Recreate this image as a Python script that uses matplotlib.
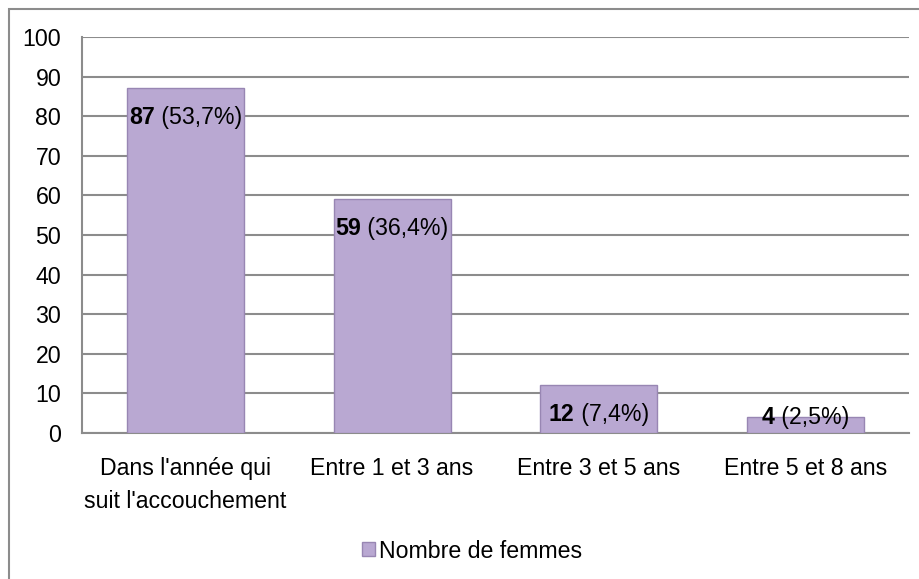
import matplotlib
matplotlib.use("Agg")
import matplotlib.pyplot as plt
from matplotlib.patches import Patch, Rectangle
from matplotlib.offsetbox import TextArea, HPacker, AnnotationBbox

categories = ["Dans l'année qui\nsuit l'accouchement", "Entre 1 et 3 ans",
              "Entre 3 et 5 ans", "Entre 5 et 8 ans"]
values = [87, 59, 12, 4]
percent_labels = ["(53,7%)", "(36,4%)", "(7,4%)", "(2,5%)"]
series_name = "Nombre de femmes"
yticks = [0, 10, 20, 30, 40, 50, 60, 70, 80, 90, 100]

plt.rcParams['font.family'] = ['Liberation Sans', 'DejaVu Sans']
FS = 16.7

fig = plt.figure(figsize=(9.19, 5.79), dpi=100)
ax = fig.add_axes([82/919, 1-433/579, (909-82)/919, (433-37)/579])

bar_color = '#B9A8D2'
edge_color = '#9886B3'
x = list(range(len(values)))
bars = ax.bar(x, values, width=0.566, color=bar_color, edgecolor=edge_color,
              linewidth=1.0, zorder=3)

ax.set_xlim(-0.5, len(values) - 0.5)
ax.set_ylim(0, 100)
ax.set_yticks(yticks)
ax.set_yticklabels([str(t) for t in yticks], fontsize=FS)
ax.set_xticks(x)
ax.set_xticklabels(categories, fontsize=FS, linespacing=1.55)
ax.tick_params(axis='y', length=0, pad=15)
ax.tick_params(axis='x', length=0, pad=17)

ax.yaxis.grid(True, color='#8C8C8C', linewidth=1.5, zorder=0)
ax.set_axisbelow(True)
for s in ['top', 'right']:
    ax.spines[s].set_visible(False)
for s in ['left', 'bottom']:
    ax.spines[s].set_color('#8C8C8C')
    ax.spines[s].set_linewidth(1.5)

for xi, v, p in zip(x, values, percent_labels):
    t1 = TextArea(str(v), textprops=dict(fontsize=FS, fontweight='bold', color='black'))
    t2 = TextArea(" " + p, textprops=dict(fontsize=FS, color='black'))
    box = HPacker(children=[t1, t2], pad=0, sep=0, align='baseline')
    off = -21 if v > 8 else 0
    ab = AnnotationBbox(box, (xi, v), xybox=(0, off), xycoords='data',
                        boxcoords='offset points', frameon=False,
                        box_alignment=(0.5, 0.5), zorder=5)
    ax.add_artist(ab)

handle = Patch(facecolor=bar_color, edgecolor=edge_color, label=series_name)
fig.legend(handles=[handle], loc='center', bbox_to_anchor=(472/919, 1-551/579),
           frameon=False, fontsize=FS, handlelength=0.55, handleheight=0.55,
           handletextpad=0.15)

# outer chart frame
fig.patches.append(Rectangle((9/919, -0.5), 2, 1.5 - 9/579,
                             transform=fig.transFigure, fill=False,
                             edgecolor='#8C8C8C', linewidth=1.5))

fig.savefig("out.png", dpi=100, facecolor='white')
